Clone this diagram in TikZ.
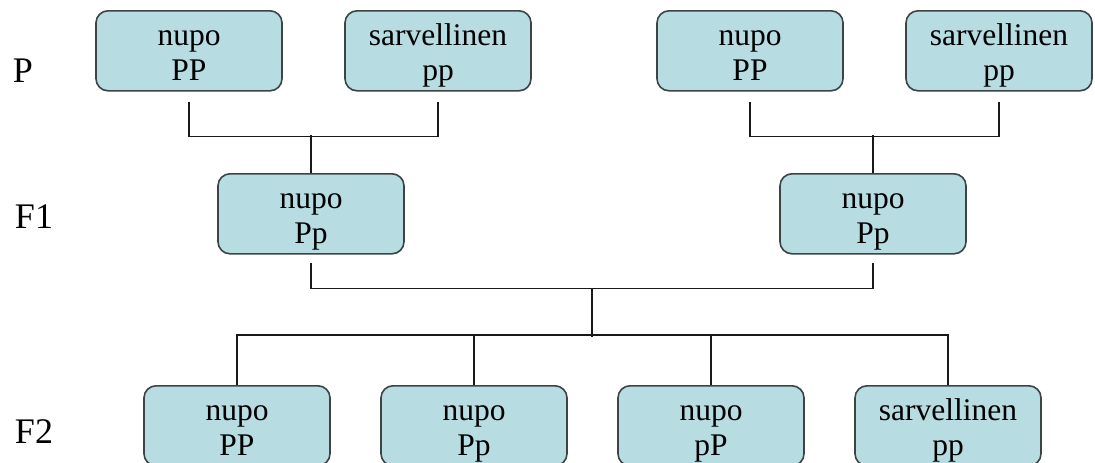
\documentclass[tikz,border=0pt]{standalone}
\usepackage{fontspec}
\setmainfont{LiberationSerif}[Extension=.ttf, UprightFont=*-Regular, BoldFont=*-Bold]
\usepackage{tikz}
\usetikzlibrary{positioning, calc}

\definecolor{boxfill}{RGB}{183,220,225}
\definecolor{boxline}{RGB}{60,68,70}

\begin{document}
\begin{tikzpicture}[
    x=1pt, y=-1pt,
    box/.style={rectangle, rounded corners=12pt, draw=boxline, fill=boxfill, line width=1.6pt,
        minimum width=186pt, inner xsep=0pt, inner ysep=0pt, text height=70pt, text depth=10pt,
        align=center, font=\fontsize{31.5}{35}\selectfont},
    gen/.style={font=\fontsize{36}{40}\selectfont},
    link/.style={draw=black!90, line width=1.5pt}
]
\useasboundingbox (0,0) rectangle (1095,463);
\clip (0,0) rectangle (1095,463);

% generation labels
\node[gen] (lp) at (23,71) {P};
\node[gen] (lf1) at (34,217) {F1};
\node[gen] (lf2) at (34,432) {F2};

% P generation
\node[box] (pa) at (189,10) [anchor=north] {nupo\\PP};
\node[box] (pb) at (438,10) [anchor=north] {sarvellinen\\pp};
\node[box] (pc) at (750,10) [anchor=north] {nupo\\PP};
\node[box] (pd) at (999,10) [anchor=north] {sarvellinen\\pp};

% F1 generation
\node[box] (fa) at (311,173) [anchor=north] {nupo\\Pp};
\node[box] (fb) at (873,173) [anchor=north] {nupo\\Pp};

% F2 generation
\node[box] (ga) at (237,385) [anchor=north] {nupo\\PP};
\node[box] (gb) at (474,385) [anchor=north] {nupo\\Pp};
\node[box] (gc) at (711,385) [anchor=north] {nupo\\pP};
\node[box] (gd) at (948,385) [anchor=north] {sarvellinen\\pp};

% crossings
\draw[link] ([yshift=-10pt]pa.south) -- ++(0,35) -| ([yshift=-10pt]pb.south);
\draw[link] (fa.north) -- ++(0,-38);
\draw[link] ([yshift=-10pt]pc.south) -- ++(0,35) -| ([yshift=-10pt]pd.south);
\draw[link] (fb.north) -- ++(0,-38);

\draw[link] ([yshift=-8pt]fa.south) -- ++(0,26) -| ([yshift=-8pt]fb.south);
\coordinate (mid) at ($(fa.south)!0.5!(fb.south)$);
\draw[link] (ga.north) -- ++(0,-50) -| (gd.north);
\draw[link] (gb.north) -- ++(0,-50);
\draw[link] (gc.north) -- ++(0,-50);
\draw[link] ([yshift=-34pt]mid) -- ++(0,48);

\end{tikzpicture}
\end{document}
